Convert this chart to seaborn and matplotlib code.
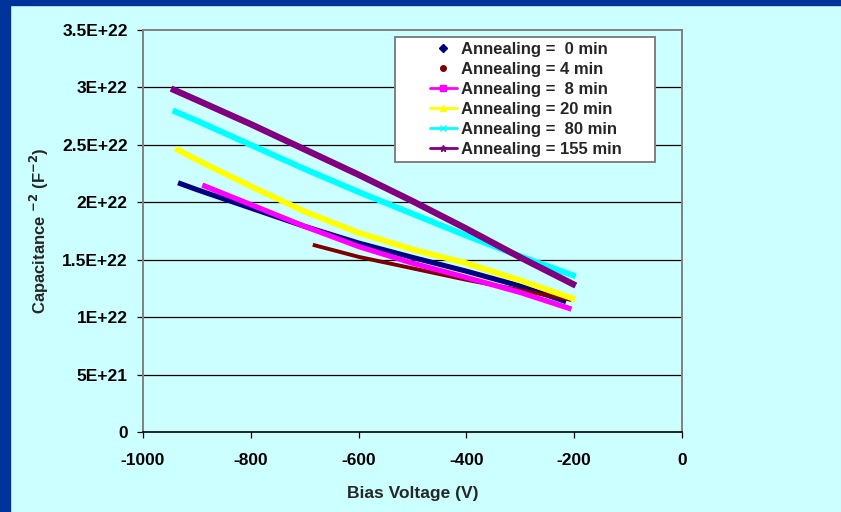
import matplotlib
matplotlib.use("Agg")
import matplotlib.pyplot as plt
from matplotlib.lines import Line2D
from matplotlib.patches import Rectangle
import seaborn as sns
import pandas as pd

# Bias voltage (V) and C^-2 (F^-2, in units of 1E+22) for each annealing time
v_0min = [-935, -900, -800, -700, -600, -500, -400, -300, -215]
c_0min = [2.17, 2.11, 1.95, 1.79, 1.645, 1.52, 1.40, 1.27, 1.135]

v_4min = [-685, -600, -500, -400, -300, -205]
c_4min = [1.63, 1.525, 1.425, 1.325, 1.235, 1.15]

v_8min = [-890, -800, -700, -600, -500, -400, -300, -205]
c_8min = [2.15, 1.98, 1.79, 1.615, 1.47, 1.345, 1.215, 1.07]

v_20min = [-940, -900, -800, -700, -600, -500, -400, -300, -198]
c_20min = [2.47, 2.37, 2.14, 1.92, 1.735, 1.59, 1.47, 1.32, 1.155]

v_80min = [-945, -900, -800, -700, -600, -500, -400, -300, -197]
c_80min = [2.80, 2.71, 2.50, 2.29, 2.09, 1.90, 1.71, 1.53, 1.355]

v_155min = [-948, -900, -800, -700, -600, -500, -400, -300, -197]
c_155min = [2.99, 2.89, 2.68, 2.46, 2.24, 2.01, 1.77, 1.52, 1.275]

series_labels = ["Annealing =  0 min", "Annealing = 4 min", "Annealing =  8 min",
                 "Annealing = 20 min", "Annealing =  80 min", "Annealing = 155 min"]
series_colors = ["#000080", "#800000", "#FF00FF", "#FFFF00", "#00FFFF", "#800080"]
series_markers = ["D", "o", "s", "^", "x", "*"]

x_ticks = [-1000, -800, -600, -400, -200, 0]
y_ticks = [0, 0.5, 1.0, 1.5, 2.0, 2.5, 3.0, 3.5]
y_tick_labels = ["0", "5E+21", "1E+22", "1.5E+22", "2E+22", "2.5E+22", "3E+22", "3.5E+22"]

BG = "#CCFFFF"
sns.set_theme(style="white")
plt.rcParams["font.family"] = ["Liberation Sans", "DejaVu Sans"]
plt.rcParams["font.weight"] = "bold"
plt.rcParams["mathtext.default"] = "bf"

fig = plt.figure(figsize=(8.41, 5.12), dpi=100, facecolor=BG)
ax = fig.add_axes([143 / 841, 1 - 432 / 512, 539 / 841, 402 / 512])
ax.set_facecolor(BG)

# dark blue strips along the top and left edge
fig.patches.append(Rectangle((0, 1 - 5 / 512), 1, 5 / 512, transform=fig.transFigure,
                             color="#003399", zorder=0))
fig.patches.append(Rectangle((0, 0), 10 / 841, 1, transform=fig.transFigure,
                             color="#003399", zorder=0))

xs = [v_0min, v_4min, v_8min, v_20min, v_80min, v_155min]
ys = [c_0min, c_4min, c_8min, c_20min, c_80min, c_155min]
widths = [3.7, 2.8, 3.8, 4.2, 4.3, 4.6]

for vx, cy, col, lw in zip(xs, ys, series_colors, widths):
    df = pd.DataFrame({"v": vx, "c": cy})
    sns.lineplot(data=df, x="v", y="c", ax=ax, color=col, linewidth=lw,
                 solid_capstyle="butt", solid_joinstyle="round",
                 zorder=3, legend=False)

ax.set_xlim(-1000, 0)
ax.set_ylim(0, 3.5)
ax.set_xticks(x_ticks)
ax.set_xticklabels([str(t) for t in x_ticks])
ax.set_yticks(y_ticks)
ax.set_yticklabels(y_tick_labels)
ax.grid(False)
for yv in y_ticks[1:-1]:
    ax.axhline(yv, color="black", linewidth=0.9, zorder=1)

for side in ["left", "top", "right"]:
    ax.spines[side].set_color("#808080")
    ax.spines[side].set_linewidth(1.4)
ax.spines["bottom"].set_color("black")
ax.spines["bottom"].set_linewidth(1.2)

ax.tick_params(axis="both", which="both", direction="out", colors="black",
               labelsize=12.5, width=0.9)
ax.tick_params(axis="y", length=4.5, pad=6.5, left=True)
ax.tick_params(axis="x", length=4, pad=11, bottom=True)
for lbl in ax.get_xticklabels() + ax.get_yticklabels():
    lbl.set_fontweight("bold")

ax.set_xlabel("Bias Voltage (V)", fontsize=12.5, fontweight="bold")
ax.set_ylabel(r"Capacitance $^{-2}$ (F$^{-2}$)", fontsize=12,
              fontweight="bold")
ax.xaxis.set_label_coords(0.5, -0.135)
ax.yaxis.set_label_coords(-0.17, 0.5)

# legend panel
x0 = (395 - 143) / 539
x1 = (655 - 143) / 539
y0 = (432 - 162) / 402
y1 = (432 - 37) / 402
ax.add_patch(Rectangle((x0, y0), x1 - x0, y1 - y0, transform=ax.transAxes,
                       facecolor="white", edgecolor="#808080", linewidth=1.4,
                       zorder=4))

handles = []
for i, (lab, col, mk) in enumerate(zip(series_labels, series_colors, series_markers)):
    ls = "none" if i < 2 else "-"
    handles.append(Line2D([], [], color=col, marker=mk, markersize=5 if i > 1 else 4,
                          markeredgecolor=col, linestyle=ls, linewidth=2, label=lab))
leg = ax.legend(handles=handles, loc="center left",
                bbox_to_anchor=((430 - 143) / 539, (y0 + y1) / 2),
                frameon=False, fontsize=12, handlelength=1.6, handletextpad=0.25,
                labelspacing=0.3, borderpad=0, borderaxespad=0)
leg.set_zorder(5)
for t in leg.get_texts():
    t.set_fontweight("bold")

fig.savefig("out.png", dpi=100, facecolor=BG)
